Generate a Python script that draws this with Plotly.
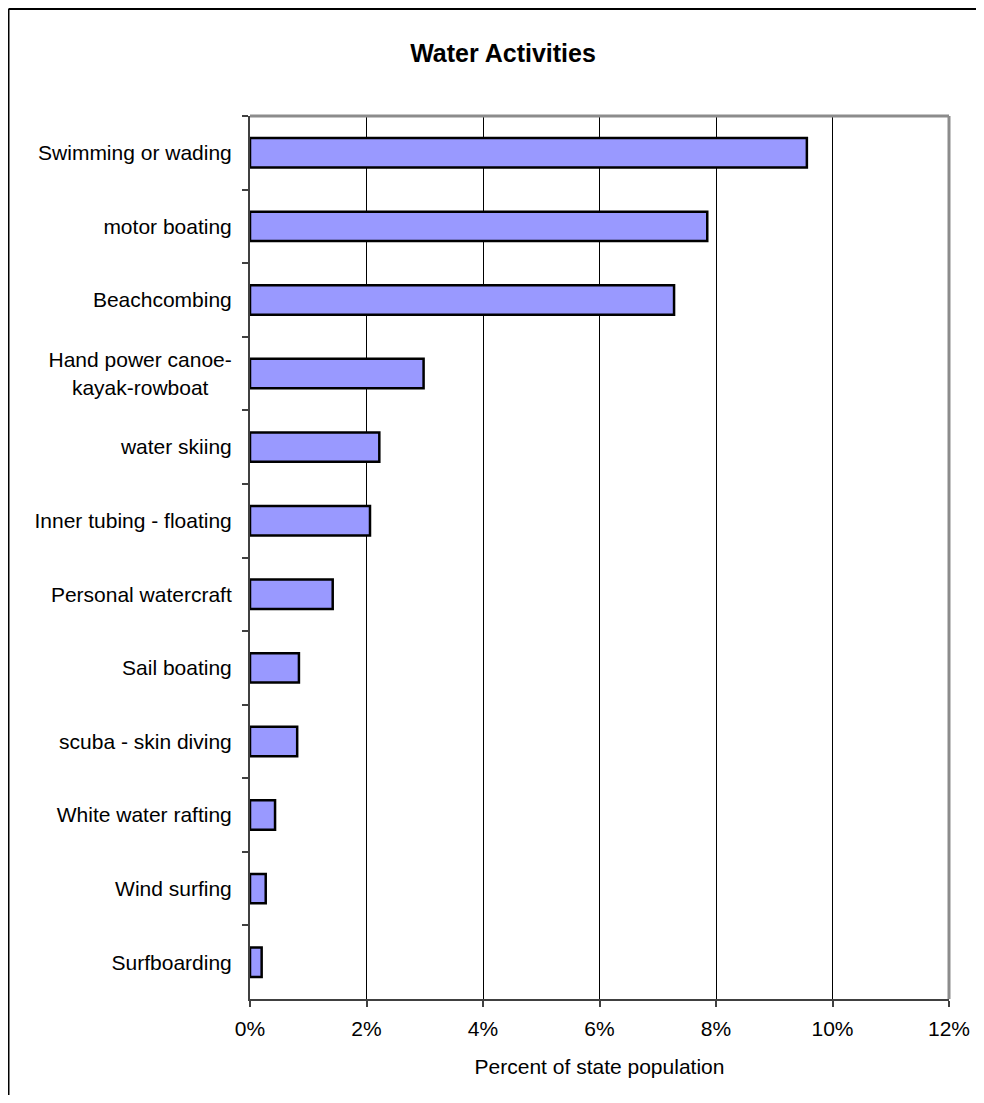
import plotly.graph_objects as go

categories = [
    "Swimming or wading",
    "motor boating",
    "Beachcombing",
    "Hand power canoe-<br>kayak-rowboat\u00a0\u00a0\u00a0\u00a0",
    "water skiing",
    "Inner tubing - floating",
    "Personal watercraft",
    "Sail boating",
    "scuba - skin diving",
    "White water rafting",
    "Wind surfing",
    "Surfboarding",
]
values_pct = [9.56, 7.85, 7.28, 2.98, 2.22, 2.06, 1.42, 0.84, 0.81, 0.43, 0.27, 0.20]
x_ticks = [0, 0.02, 0.04, 0.06, 0.08, 0.10, 0.12]
x_tick_labels = ["0%", "2%", "4%", "6%", "8%", "10%", "12%"]

values = [v / 100 for v in values_pct]

FONT = "Liberation Sans, Arial, sans-serif"

fig = go.Figure(
    go.Bar(
        x=values,
        y=categories,
        orientation="h",
        marker=dict(color="#9999FF", line=dict(color="black", width=2.5)),
        hoverinfo="x+y",
    )
)

# page has an 8px body margin; figure coordinates = page coordinates - 8
W, H = 968, 1087
L, T = 242, 108
R = W - 941
B = H - 991
PW, PH = W - L - R, H - T - B

fig.update_layout(
    width=W,
    height=H,
    autosize=False,
    margin=dict(l=L, r=R, t=T, b=B, pad=0, autoexpand=False),
    paper_bgcolor="white",
    plot_bgcolor="white",
    bargap=0.6,
    showlegend=False,
    font=dict(family=FONT, size=21, color="black"),
    title=dict(
        text="<b>Water Activities</b>",
        x=495 / W,
        xanchor="center",
        xref="container",
        y=1 - 45 / H,
        yanchor="middle",
        yref="container",
        font=dict(family=FONT, size=25, color="black"),
    ),
    xaxis=dict(
        range=[0, 0.12],
        tickvals=x_ticks,
        ticktext=x_tick_labels,
        showgrid=True,
        gridcolor="black",
        gridwidth=1,
        zeroline=False,
        showline=True,
        linecolor="#404040",
        linewidth=2,
        ticks="outside",
        ticklen=6,
        tickcolor="#404040",
        tickwidth=1.5,
        ticklabelstandoff=4,
        mirror=False,
        automargin=False,
        title=dict(text="Percent of state population", standoff=20,
                   font=dict(family=FONT, size=21)),
        tickfont=dict(family=FONT, size=21),
        fixedrange=True,
    ),
    yaxis=dict(
        type="category",
        autorange="reversed",
        showgrid=False,
        zeroline=False,
        showline=True,
        linecolor="#404040",
        linewidth=2,
        ticks="outside",
        tickson="boundaries",
        ticklen=6,
        tickcolor="#404040",
        tickwidth=1.5,
        ticklabelstandoff=12,
        automargin=False,
        tickfont=dict(family=FONT, size=21),
        fixedrange=True,
    ),
    shapes=[
        # plot area border top and right (gray)
        dict(type="line", xref="paper", yref="paper", x0=0, x1=1, y0=1, y1=1,
             line=dict(color="#8c8c8c", width=3)),
        dict(type="line", xref="paper", yref="paper", x0=1, x1=1, y0=0, y1=1,
             line=dict(color="#8c8c8c", width=3)),
        # outer chart border (top and left)
        dict(type="line", xref="paper", yref="paper",
             x0=(0.5 - L) / PW, x1=(W - L) / PW,
             y0=(H - B - 1) / PH, y1=(H - B - 1) / PH,
             line=dict(color="black", width=2)),
        dict(type="line", xref="paper", yref="paper",
             x0=(0.5 - L) / PW, x1=(0.5 - L) / PW,
             y0=-B / PH, y1=(H - B - 1) / PH,
             line=dict(color="black", width=2)),
    ],
)

fig.write_html("out.html", config={"responsive": False})
